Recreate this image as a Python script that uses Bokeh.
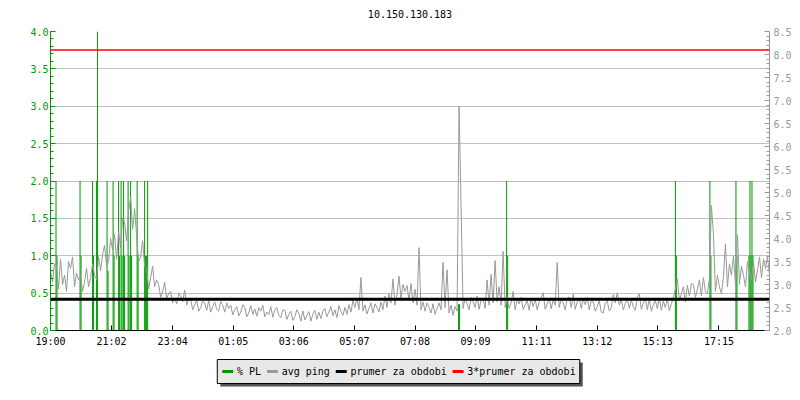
from bokeh.plotting import figure
from bokeh.layouts import column
from bokeh.models import (Range1d, LinearAxis, SingleIntervalTicker, FixedTicker,
                          Span, PrintfTickFormatter, ColumnDataSource)
from bokeh.core.properties import value
from bokeh.embed import file_html
from bokeh.resources import INLINE

# ---------------- data ----------------
title_text = "10.150.130.183"
tick_minutes = [0, 122, 244, 365, 486, 607, 728, 849, 971, 1092, 1213, 1335]
tick_labels = ["19:00", "21:02", "23:04", "01:05", "03:06", "05:07",
               "07:08", "09:09", "11:11", "13:12", "15:13", "17:15"]

ping_step_min = 4
ping_ms = [
    3.3, 3.05, 3.45, 3.4, 2.9, 3.55, 3.0, 3.2, 2.85, 3.5, 3.35, 3.6, 2.95, 3.25, 3.1,
    3.2, 2.85, 3.05, 3.35, 2.95, 3.15,
    3.45, 3.2, 3.1, 3.6, 3.3, 3.65,
    3.85, 3.4, 3.5, 4.0, 3.75, 4.1, 3.55,
    4.15, 3.8, 4.45, 4.35, 3.95, 4.6,
    4.9, 4.2, 4.65,
    4.05, 3.5, 3.6, 3.95, 3.4,
    3.35, 2.9, 3.15, 3.4, 2.95, 3.1,
    3.0, 2.72, 2.85, 3.05, 2.7, 2.8,
    2.85, 2.6, 2.7, 2.58, 2.8, 2.75, 2.62, 2.88, 2.55, 2.68,
    2.68, 2.45, 2.55, 2.66, 2.42, 2.5, 2.64, 2.6, 2.44, 2.65,
    2.4, 2.52, 2.62, 2.46, 2.42, 2.63, 2.55, 2.4, 2.6, 2.48,
    2.55, 2.34, 2.45, 2.52, 2.32, 2.4, 2.56, 2.5, 2.3, 2.38,
    2.54, 2.35, 2.47, 2.31, 2.5, 2.42, 2.55, 2.3, 2.4, 2.34,
    2.52, 2.29, 2.44, 2.5, 2.33, 2.28, 2.45,
    2.44, 2.24, 2.35, 2.42, 2.22, 2.3, 2.45, 2.38, 2.2, 2.43,
    2.23, 2.32, 2.41, 2.2, 2.36, 2.44, 2.24, 2.4, 2.26, 2.42,
    2.48, 2.3, 2.4, 2.52, 2.32, 2.45, 2.28, 2.54, 2.42, 2.33, 2.5, 2.35, 2.56,
    2.4, 2.65, 2.5, 2.7, 2.45, 3.15, 2.42,
    2.56, 2.36, 2.48, 2.6, 2.38, 2.58, 2.5, 2.4, 2.62, 2.45,
    2.75, 2.5, 2.8, 2.6, 3.12, 2.55, 2.78, 3.18, 2.7, 3.0, 2.85, 2.98, 2.65, 3.02,
    2.6, 2.9, 2.55, 3.8, 2.45, 2.62,
    2.42, 2.6, 2.5, 2.38, 2.58, 2.35, 2.48, 2.6,
    2.45, 3.48, 2.5, 3.32,
    2.38, 2.55, 2.33, 2.52, 2.42,
    6.88, 4.72,
    2.48, 2.7, 2.58, 2.45, 2.72, 2.62, 2.5, 2.75, 2.46, 2.66, 2.7, 2.48,
    3.1, 2.55, 3.22, 2.6, 3.52, 2.62, 2.95, 2.55, 3.72, 2.5,
    2.72, 2.48, 2.6, 2.85, 2.45, 2.68, 2.58, 2.72, 2.46, 2.55,
    2.66, 2.44, 2.7, 2.52, 2.68, 2.45, 2.62, 2.72, 2.82, 2.46,
    2.58, 2.7, 2.47, 2.68, 2.55, 3.48, 2.5, 2.68, 2.6, 2.45,
    2.7, 2.73, 2.5, 2.8, 2.46, 2.62, 2.7, 2.48, 2.68, 2.56,
    2.72, 2.45, 2.65,
    2.62, 2.42, 2.52, 2.65, 2.4, 2.38, 2.6, 2.64, 2.42, 2.5,
    2.78, 2.6, 2.82, 2.55,
    2.68, 2.45, 2.58, 2.7, 2.48, 2.66, 2.52, 2.44, 2.72, 2.8,
    2.46, 2.6, 2.68, 2.45, 2.7, 2.42, 2.55, 2.66, 2.47, 2.7,
    2.44, 2.64, 2.5, 2.7, 2.43, 2.58, 2.72,
    2.9, 3.12, 2.65, 2.8, 2.95, 2.62, 2.98, 2.75, 3.02,
    3.0, 2.72, 2.9, 3.1, 2.75, 3.15, 2.85, 2.8, 3.12,
    4.72, 4.1,
    2.85, 3.2, 2.95, 2.8, 3.15,
    3.88, 2.95, 3.45, 3.2, 3.62, 3.0, 4.08,
    3.0, 3.4, 3.2, 2.95, 3.5, 3.3, 3.1,
    3.5, 3.05, 3.3, 3.6, 3.15, 3.55, 3.35, 3.6, 3.2,
]

pl_minutes = [11, 13, 59, 61, 84, 86, 92, 94, 113, 115, 125, 127, 136, 138,
              141, 143, 146, 148, 155, 157, 160, 162, 173, 175,
              188, 190, 192, 194, 815, 817, 911, 913, 1248, 1250,
              1317, 1319, 1369, 1371, 1395, 1397, 1399, 1401, 1403]
pl_percent = [2.0, 1.0, 2.0, 1.0, 2.0, 1.0, 2.0, 4.0, 2.0, 0.8, 2.0, 1.0, 2.0, 1.0,
              2.0, 1.0, 2.0, 1.0, 2.0, 1.0, 2.0, 1.0, 2.0, 1.0,
              2.0, 1.0, 1.0, 2.0, 0.35, 0.35, 2.0, 1.0, 2.0, 1.0,
              2.0, 1.0, 2.0, 1.0, 1.0, 2.0, 1.0, 2.0, 1.0]

prumer_ms = 2.68
prumer3_ms = 8.1

legend_labels = ["% PL", "avg ping", "prumer za obdobi", "3*prumer za obdobi"]

# ---------------- style ----------------
GREEN = "#009900"
GRAY = "#999999"
FONT = "DejaVu Sans Mono"
FS = "10px"
W = 794
BL, BR = 50, 24


def strip(top, height):
    """A blank figure whose data coordinates equal page pixels."""
    f = figure(width=W, height=height, output_backend="svg", toolbar_location=None,
               x_range=Range1d(BL, W - BR), y_range=Range1d(top + height, top),
               x_axis_type=None, y_axis_type=None,
               min_border_left=BL, min_border_right=BR, min_border_top=0,
               min_border_bottom=0, outline_line_color=None,
               background_fill_color="white", border_fill_color="white")
    f.grid.grid_line_color = None
    return f


# ---------------- title strip ----------------
TH = 23
tt = strip(0, TH)
tt.text(x=[(BL + W - BR) / 2], y=[13], text=[title_text], text_font=value(FONT),
        text_font_size=FS, text_baseline="middle", text_align="center",
        text_color="black")

# ---------------- chart ----------------
CH = 327
p = figure(width=W, height=CH, output_backend="svg", toolbar_location=None,
           x_range=Range1d(0, 1436), y_range=Range1d(0, 4),
           min_border_left=BL, min_border_right=BR, min_border_top=8,
           min_border_bottom=20, outline_line_color=None,
           background_fill_color="white", border_fill_color="white")
p.extra_y_ranges = {"ping": Range1d(2.0, 8.5)}

# grid
p.xgrid.grid_line_color = None
p.ygrid.grid_line_color = "#c0c0c0"
p.ygrid.grid_line_width = 1

# left axis
ya = p.yaxis[0]
ya.ticker = SingleIntervalTicker(interval=0.5, num_minor_ticks=5)
ya.formatter = PrintfTickFormatter(format="%.1f")
for prop in ("axis_line_color", "major_tick_line_color", "minor_tick_line_color",
             "major_label_text_color"):
    setattr(ya, prop, GREEN)
ya.major_tick_in = 5
ya.major_tick_out = 0
ya.minor_tick_in = 3
ya.minor_tick_out = 0
ya.major_label_standoff = 2
ya.major_label_text_font = FONT
ya.major_label_text_font_size = FS

# right axis
ra = LinearAxis(y_range_name="ping",
                ticker=SingleIntervalTicker(interval=0.5, num_minor_ticks=5),
                formatter=PrintfTickFormatter(format="%.1f"))
for prop in ("axis_line_color", "major_tick_line_color", "minor_tick_line_color",
             "major_label_text_color"):
    setattr(ra, prop, GRAY)
ra.major_tick_in = 5
ra.major_tick_out = 0
ra.minor_tick_in = 3
ra.minor_tick_out = 0
ra.major_label_standoff = 4
ra.major_label_text_font = FONT
ra.major_label_text_font_size = FS
p.add_layout(ra, "right")

# bottom axis
xa = p.xaxis[0]
xa.ticker = FixedTicker(ticks=tick_minutes)
xa.major_label_overrides = {t: l for t, l in zip(tick_minutes, tick_labels)}
xa.axis_line_color = "black"
xa.major_tick_line_color = "black"
xa.minor_tick_line_color = None
xa.major_tick_in = 5
xa.major_tick_out = 0
xa.major_label_standoff = 5
xa.major_label_text_font = FONT
xa.major_label_text_font_size = FS
xa.major_label_text_color = "black"

# data glyphs
pl_src = ColumnDataSource(dict(t=pl_minutes, v=pl_percent))
p.vbar(x="t", top="v", bottom=0, width=2.0, source=pl_src,
       fill_color=GREEN, line_color=None)

ping_src = ColumnDataSource(dict(t=[i * ping_step_min for i in range(len(ping_ms))],
                                 v=ping_ms))
p.line(x="t", y="v", source=ping_src, line_color=GRAY, line_width=1,
       y_range_name="ping")

p.add_layout(Span(location=prumer_ms, dimension="width", y_range_name="ping",
                  line_color="black", line_width=3))
p.add_layout(Span(location=prumer3_ms, dimension="width", y_range_name="ping",
                  line_color="#ff0000", line_width=1.5))

# ---------------- legend strip ----------------
LH = 42
TOP = TH + CH
lg = strip(TOP, LH)

box_l, box_r, box_t, box_b = 217, 580, 359, 383
lg.quad(left=[box_l + 3], right=[box_r + 3], top=[box_t + 3], bottom=[box_b + 3],
        fill_color="#555555", line_color=None)
lg.quad(left=[box_l], right=[box_r], top=[box_t], bottom=[box_b],
        fill_color="#e8e8e8", line_color="black", line_width=1)

legend_colors = [GREEN, GRAY, "black", "#ff0000"]
char_w = 6.02
x = box_l + 5
sw_x0, sw_x1, tx = [], [], []
for lab in legend_labels:
    sw_x0.append(x)
    sw_x1.append(x + 11)
    tx.append(x + 14.7)
    x = x + 14.7 + char_w * len(lab) + 6
ym = (box_t + box_b) / 2
lg.segment(x0=sw_x0, y0=[ym] * 4, x1=sw_x1, y1=[ym] * 4,
           line_color=legend_colors, line_width=3)
lg.text(x=tx, y=[ym] * 4, text=legend_labels, text_font=value(FONT),
        text_font_size=FS, text_baseline="middle", text_align="left",
        text_color="black")

layout = column(tt, p, lg, spacing=0)
open("out.html", "w").write(file_html(layout, INLINE))
